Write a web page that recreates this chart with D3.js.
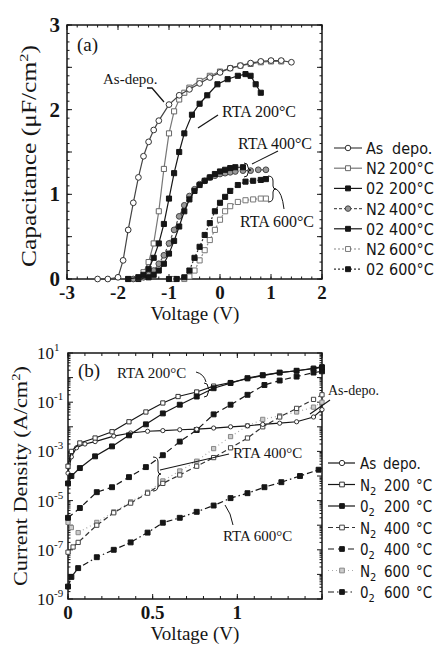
<!DOCTYPE html>
<html><head><meta charset="utf-8">
<script src="https://cdn.jsdelivr.net/npm/d3@7/dist/d3.min.js"></script>
<style>
body{margin:0;background:#fff}
svg{display:block}
text{font-family:"Liberation Serif","Times New Roman",serif;fill:#151515}
.leg text{font-family:"DejaVu Sans Condensed","DejaVu Sans",sans-serif;font-stretch:condensed}
</style>
</head><body><svg id="c" width="440" height="648"></svg>
<script>
// ---------- Panel (a): C-V ----------
const aAsDepoV = [-2.4,-2.2,-2.0,-1.9,-1.8,-1.7,-1.6,-1.5,-1.4,-1.3,-1.2,-1.0,-0.8,-0.6,-0.4,-0.2,0,0.2,0.4,0.6,0.8,1.0,1.2,1.4];
const aAsDepoC = [0,0,0.02,0.22,0.58,0.9,1.2,1.45,1.62,1.76,1.87,2.06,2.17,2.24,2.31,2.38,2.44,2.49,2.52,2.55,2.57,2.58,2.58,2.56];
const aN2200V = [-1.8,-1.6,-1.5,-1.4,-1.3,-1.2,-1.1,-1.0,-0.9,-0.8,-0.7,-0.6,-0.4,-0.2,0,0.2,0.4,0.6,0.8,1.0,1.2];
const aN2200C = [0,0.02,0.08,0.2,0.42,0.8,1.3,1.72,1.98,2.12,2.2,2.26,2.34,2.4,2.45,2.49,2.52,2.54,2.56,2.57,2.57];
const aO2200V = [-1.8,-1.6,-1.5,-1.4,-1.3,-1.2,-1.1,-1.0,-0.9,-0.8,-0.7,-0.55,-0.4,-0.25,-0.05,0.15,0.35,0.5,0.6,0.7,0.8];
const aO2200C = [0,0.02,0.05,0.12,0.25,0.42,0.65,0.95,1.25,1.5,1.72,1.94,2.07,2.17,2.3,2.36,2.4,2.42,2.4,2.3,2.2];
const aN2400V = [-1.7,-1.5,-1.4,-1.3,-1.2,-1.1,-1.0,-0.9,-0.8,-0.7,-0.6,-0.5,-0.4,-0.3,-0.2,-0.1,0,0.1,0.2,0.3,0.45,0.6,0.75,0.9];
const aN2400C = [0,0.02,0.05,0.1,0.18,0.28,0.42,0.58,0.74,0.87,0.98,1.06,1.12,1.16,1.2,1.22,1.24,1.25,1.26,1.27,1.28,1.28,1.29,1.29];
const aO2400V = [-1.6,-1.4,-1.3,-1.2,-1.1,-1.0,-0.9,-0.8,-0.7,-0.6,-0.5,-0.4,-0.3,-0.2,-0.1,0,0.1,0.2,0.3,0.45];
const aO2400C = [0,0.02,0.05,0.1,0.18,0.3,0.45,0.62,0.8,0.94,1.04,1.11,1.16,1.2,1.24,1.27,1.29,1.31,1.32,1.32];
const aN2600V = [-0.9,-0.7,-0.6,-0.5,-0.4,-0.3,-0.2,-0.1,0,0.1,0.2,0.35,0.5,0.65,0.8,0.9];
const aN2600C = [0,0,0.03,0.1,0.22,0.34,0.46,0.58,0.7,0.8,0.86,0.91,0.93,0.94,0.95,0.95];
const aO2600V = [-1.0,-0.85,-0.7,-0.6,-0.5,-0.4,-0.3,-0.2,-0.1,0,0.1,0.2,0.35,0.5,0.65,0.8,0.9];
const aO2600C = [0,0,0.02,0.1,0.25,0.38,0.52,0.66,0.8,0.9,0.97,1.04,1.11,1.15,1.16,1.17,1.18];
const aXTicks = [-3,-2,-1,0,1,2];
const aYTicks = [0,1,2,3];
const aLegendName = ["As","N2","02","N2","02","N2","02"];
const aLegendTemp = ["depo.","200°C","200°C","400°C","400°C","600°C","600°C"];

// ---------- Panel (b): J-V ----------
const bAsDepoV = [0,0.02,0.05,0.1,0.16,0.27,0.37,0.47,0.56,0.66,0.76,0.86,0.96,1.06,1.15,1.25,1.35,1.45,1.5];
const bAsDepoJ = [1.3e-4,6e-4,1.4e-3,2e-3,2.5e-3,4.2e-3,5.6e-3,6.6e-3,7e-3,7.6e-3,8e-3,8.9e-3,1e-2,1.1e-2,1.25e-2,1.4e-2,1.6e-2,2.5e-2,5e-2];
const bN2200V = [0,0.02,0.07,0.16,0.26,0.36,0.46,0.56,0.65,0.76,0.86,0.96,1.06,1.15,1.25,1.35,1.45,1.5];
const bN2200J = [2.5e-4,1e-3,2.2e-3,3.5e-3,6.3e-3,1.6e-2,4e-2,9.3e-2,0.17,0.26,0.45,0.63,0.9,1.2,1.6,1.9,2.4,2.8];
const bO2200V = [0,0.02,0.07,0.16,0.26,0.36,0.46,0.56,0.66,0.76,0.86,0.96,1.06,1.15,1.25,1.35,1.45,1.5];
const bO2200J = [5e-5,1e-4,2.1e-4,6.3e-4,1.6e-3,4.5e-3,1.26e-2,3.5e-2,7.9e-2,0.17,0.37,0.6,0.95,1.26,1.6,1.9,2.3,2.6];
const bN2400V = [0,0.03,0.06,0.17,0.27,0.37,0.47,0.56,0.66,0.76,0.86,0.96,1.06,1.15,1.25,1.35,1.45,1.5];
const bN2400J = [8e-8,1.3e-7,2e-7,1e-6,3.2e-6,7.9e-6,2e-5,5e-5,1.1e-4,2.5e-4,5.6e-4,1.4e-3,3.5e-3,1e-2,2.5e-2,5.6e-2,0.13,0.2];
const bO2400V = [0,0.07,0.17,0.26,0.36,0.46,0.56,0.66,0.76,0.86,0.96,1.06,1.16,1.25,1.35,1.45,1.5];
const bO2400J = [2e-6,5e-6,2.2e-5,3.5e-5,9e-5,2.3e-4,7e-4,2.5e-3,7.4e-3,3.2e-2,7.9e-2,0.2,0.5,0.76,1.1,1.6,1.8];
const bN2600V = [0,0.02,0.06,0.17,0.27,0.37,0.47,0.56,0.66,0.76,0.86,0.96,1.06,1.15,1.25,1.35,1.45,1.5];
const bN2600J = [1.3e-6,8e-7,5e-7,1.3e-6,3.5e-6,8.9e-6,2.2e-5,6.3e-5,1.6e-4,4e-4,1.3e-3,4e-3,1.1e-2,2e-2,2.8e-2,4e-2,6.3e-2,0.1];
const bO2600V = [0,0.02,0.06,0.17,0.27,0.37,0.47,0.56,0.66,0.76,0.86,0.96,1.06,1.16,1.26,1.37,1.48];
const bO2600J = [3.2e-9,7.9e-9,1.8e-8,5e-8,1e-7,2e-7,5e-7,1.26e-6,2e-6,3.5e-6,6.3e-6,1.26e-5,2e-5,3.5e-5,5.6e-5,1e-4,1.8e-4];
const bXTicks = [0,0.5,1,1.5];
const bXTickLabels = ["0","0.5","1",""];
const bYTicks = [1e1,1e-1,1e-3,1e-5,1e-7,1e-9];
const bYExp = ["1","-1","-3","-5","-7","-9"];
const bLegendName = ["As","N","0","N","0","N","0"];
const bLegendSub = ["","2","2","2","2","2","2"];
const bLegendNum = ["depo.","200","200","400","400","600","600"];
const bLegendUnit = ["","°C","°C","°C","°C","°C","°C"];

const svg = d3.select("#c");
const INK = "#161616";

const aStyles = [
  {sym:d3.symbolCircle, fill:"#fff", stroke:"#333", dash:null, line:"#444"},
  {sym:d3.symbolSquare, fill:"#fff", stroke:"#666", dash:null, line:"#777"},
  {sym:d3.symbolSquare, fill:INK, stroke:INK, dash:null, line:INK},
  {sym:d3.symbolCircle, fill:"#999", stroke:"#444", dash:"3,2", line:"#555"},
  {sym:d3.symbolSquare, fill:INK, stroke:INK, dash:null, line:INK},
  {sym:d3.symbolSquare, fill:"#fff", stroke:"#777", dash:"2,2", line:"#888"},
  {sym:d3.symbolSquare, fill:INK, stroke:INK, dash:"2,2", line:"#333"}
];
const bStyles = [
  {sym:d3.symbolCircle, fill:"#fff", stroke:"#333", dash:null, line:INK, size:14},
  {sym:d3.symbolSquare, fill:"#fff", stroke:"#333", dash:null, line:INK, size:18},
  {sym:d3.symbolSquare, fill:INK, stroke:INK, dash:null, line:INK, size:24},
  {sym:d3.symbolSquare, fill:"#fff", stroke:"#444", dash:"5,3", line:"#333", size:18},
  {sym:d3.symbolSquare, fill:INK, stroke:INK, dash:"6,4", line:INK, size:24},
  {sym:d3.symbolSquare, fill:"#ccc", stroke:"#888", dash:"1,3", line:"#aaa", size:18},
  {sym:d3.symbolSquare, fill:INK, stroke:INK, dash:"6,3,1.5,3", line:INK, size:24}
];

function frame(g, x, y) {
  const [x0,x1] = x.range(), [y0,y1] = y.range();
  g.append("rect").attr("x",x0).attr("y",y1).attr("width",x1-x0).attr("height",y0-y1)
    .attr("fill","none").attr("stroke",INK).attr("stroke-width",1.5);
}
function ticksX(g, x, y, vals, len) {
  const [y0,y1] = y.range();
  vals.forEach(v => {
    const px = x(v);
    g.append("line").attr("x1",px).attr("x2",px).attr("y1",y0).attr("y2",y0-len).attr("stroke",INK);
    g.append("line").attr("x1",px).attr("x2",px).attr("y1",y1).attr("y2",y1+len).attr("stroke",INK);
  });
}
function ticksY(g, x, y, vals, len) {
  const [x0,x1] = x.range();
  vals.forEach(v => {
    const py = y(v);
    g.append("line").attr("y1",py).attr("y2",py).attr("x1",x0).attr("x2",x0+len).attr("stroke",INK);
    g.append("line").attr("y1",py).attr("y2",py).attr("x1",x1).attr("x2",x1-len).attr("stroke",INK);
  });
}
function series(g, x, y, xs, ys, st, size) {
  const pts = xs.map((v,i)=>[x(v), y(ys[i])]);
  g.append("path").attr("d", d3.line()(pts)).attr("fill","none")
    .attr("stroke", st.line).attr("stroke-width",1.2).attr("stroke-dasharray", st.dash);
  const sym = d3.symbol().type(st.sym).size(st.size || size);
  g.selectAll(null).data(pts).join("path")
    .attr("transform", d=>`translate(${d[0]},${d[1]})`)
    .attr("d", sym).attr("fill", st.fill).attr("stroke", st.stroke).attr("stroke-width",1);
}

// ================= Panel (a) =================
const xa = d3.scaleLinear().domain([-3,2]).range([67,322]);
const ya = d3.scaleLinear().domain([0,3]).range([279,25]);
const ga = svg.append("g");
frame(ga, xa, ya);
ticksX(ga, xa, ya, d3.range(-3,2.001,0.2), 2.5);
ticksX(ga, xa, ya, aXTicks, 5);
ticksY(ga, xa, ya, d3.range(0,3.001,0.1), 2.5);
ticksY(ga, xa, ya, d3.range(0,3.001,0.5), 5);
aXTicks.forEach(v => ga.append("text").attr("x", xa(v)).attr("y", 299)
  .attr("text-anchor","middle").attr("font-size",19).attr("font-weight","bold")
  .text(v < 0 ? "-" + Math.abs(v) : v));
aYTicks.forEach(v => ga.append("text").attr("x", 60).attr("y", ya(v)+7)
  .attr("text-anchor","end").attr("font-size",21).attr("font-weight","bold").text(v));
ga.append("text").attr("x",195).attr("y",320).attr("text-anchor","middle").attr("font-size",19)
  .text("Voltage  (V)");
ga.append("text").attr("transform","translate(36,156) rotate(-90)").attr("text-anchor","middle")
  .attr("font-size",20).attr("textLength",222).attr("lengthAdjust","spacingAndGlyphs")
  .html('Capacitance  (μF/cm<tspan dy="-8" font-size="13">2</tspan><tspan dy="8">)</tspan>');

const aXs = [aAsDepoV,aN2200V,aO2200V,aN2400V,aO2400V,aN2600V,aO2600V];
const aYs = [aAsDepoC,aN2200C,aO2200C,aN2400C,aO2400C,aN2600C,aO2600C];
[5,6,3,4,1,2,0].forEach(i => series(ga, xa, ya, aXs[i], aYs[i], aStyles[i], 26));

// annotations (a)
ga.append("text").attr("x",77).attr("y",51).attr("font-size",19).text("(a)");
ga.append("text").attr("x",103).attr("y",84).attr("font-size",15).text("As-depo.");
ga.append("path").attr("d","M147,88 L152,88 L164,102").attr("fill","none").attr("stroke",INK).attr("stroke-width",1.3);
ga.append("text").attr("x",222).attr("y",117).attr("font-size",16).text("RTA 200°C");
ga.append("line").attr("x1",218).attr("y1",115).attr("x2",198).attr("y2",128).attr("stroke",INK).attr("stroke-width",1.3);
ga.append("text").attr("x",238).attr("y",149).attr("font-size",16).text("RTA 400°C");
ga.append("line").attr("x1",278).attr("y1",151).attr("x2",252).attr("y2",164).attr("stroke",INK).attr("stroke-width",1.1);
ga.append("path").attr("d","M244,163 q4,0 4,4 q0,3 3,3 q-3,0 -3,3 q0,4 -4,4").attr("fill","none").attr("stroke",INK);
ga.append("text").attr("x",240).attr("y",227).attr("font-size",16).text("RTA 600°C");
ga.append("path").attr("d","M268,176 q5,0 5,5 l0,5 q0,3 3,3 q-3,0 -3,3 l0,5 q0,5 -5,5").attr("fill","none").attr("stroke",INK);
ga.append("path").attr("d","M276,189 q6,3 8,20").attr("fill","none").attr("stroke",INK);

// legend (a)
const la = svg.append("g").attr("class","leg");
aLegendName.forEach((t,i) => {
  const y = 148 + i*20.2, st = aStyles[i];
  la.append("line").attr("x1",334).attr("x2",362).attr("y1",y).attr("y2",y)
    .attr("stroke",st.line).attr("stroke-width",1.2).attr("stroke-dasharray",st.dash);
  la.append("path").attr("transform",`translate(348,${y})`).attr("d",d3.symbol().type(st.sym).size(24)())
    .attr("fill",st.fill).attr("stroke",st.stroke);
  la.append("text").attr("x",366).attr("y",y+6).attr("font-size",16).text(t);
  la.append("text").attr("x",i ? 389 : 392).attr("y",y+6).attr("font-size",16).text(aLegendTemp[i]);
});

// ================= Panel (b) =================
const xb = d3.scaleLinear().domain([0,1.5]).range([68,322]);
const yb = d3.scaleLog().domain([1e-9,1e1]).range([599,353]);
const gb = svg.append("g");
frame(gb, xb, yb);
ticksX(gb, xb, yb, d3.range(0,1.5001,0.1), 3);
ticksX(gb, xb, yb, d3.range(0,1.5001,0.5), 5);
const minorY = [];
for (let e=-9; e<1; e++) for (let m=2; m<10; m++) minorY.push(m*Math.pow(10,e));
ticksY(gb, xb, yb, minorY, 2.5);
ticksY(gb, xb, yb, d3.range(-9,2).map(e=>Math.pow(10,e)), 5);
bXTicks.forEach((v,i) => gb.append("text").attr("x", xb(v)).attr("y", 619)
  .attr("text-anchor","middle").attr("font-size",19).attr("font-weight","bold").text(bXTickLabels[i]));
bYTicks.forEach((v,i) => gb.append("text").attr("x", 37).attr("y", yb(v)+6)
  .attr("font-size",17).html(`10<tspan dy="-8" font-size="11">${bYExp[i]}</tspan>`));
gb.append("text").attr("x",195).attr("y",640).attr("text-anchor","middle").attr("font-size",19)
  .text("Voltage  (V)");
gb.append("text").attr("transform","translate(27,476) rotate(-90)").attr("text-anchor","middle")
  .attr("font-size",18).attr("textLength",220).attr("lengthAdjust","spacingAndGlyphs")
  .html('Current Density  (A/cm<tspan dy="-7" font-size="12">2</tspan><tspan dy="7">)</tspan>');

const bXs = [bAsDepoV,bN2200V,bO2200V,bN2400V,bO2400V,bN2600V,bO2600V];
const bYs = [bAsDepoJ,bN2200J,bO2200J,bN2400J,bO2400J,bN2600J,bO2600J];
[5,6,3,4,0,1,2].forEach(i => series(gb, xb, yb, bXs[i], bYs[i], bStyles[i], 20));

// annotations (b)
gb.append("text").attr("x",78).attr("y",377).attr("font-size",19).text("(b)");
gb.append("text").attr("x",117).attr("y",378).attr("font-size",15).text("RTA 200°C");
gb.append("path").attr("d","M196,372 q8,2 10,10").attr("fill","none").attr("stroke",INK);
gb.append("path").attr("d","M204,383 q4,0 4,4 q0,3 3,3 q-3,0 -3,3 q0,4 -4,4").attr("fill","none").attr("stroke",INK);
gb.append("text").attr("x",328).attr("y",395).attr("font-size",14).text("As-depo.");
gb.append("line").attr("x1",330).attr("y1",400).attr("x2",310).attr("y2",414).attr("stroke",INK).attr("stroke-width",1.1);
gb.append("text").attr("x",233).attr("y",458).attr("font-size",15).text("RTA 400°C");
gb.append("line").attr("x1",160).attr("y1",470).attr("x2",229).attr("y2",454).attr("stroke",INK).attr("stroke-width",1.1);
gb.append("path").attr("d","M153,457 q5,0 5,5 l0,9 q0,3 3,3 q-3,0 -3,3 l0,9 q0,5 -5,5").attr("fill","none").attr("stroke",INK);
gb.append("text").attr("x",223).attr("y",541).attr("font-size",15).text("RTA 600°C");
gb.append("path").attr("d","M233,525 q-2,-12 -8,-20").attr("fill","none").attr("stroke",INK);

// legend (b)
const lb = svg.append("g").attr("class","leg");
bLegendName.forEach((t,i) => {
  const y = 463 + i*21.5, st = bStyles[i];
  lb.append("line").attr("x1",328).attr("x2",355).attr("y1",y).attr("y2",y)
    .attr("stroke",st.line).attr("stroke-width",1.2).attr("stroke-dasharray",st.dash);
  lb.append("path").attr("transform",`translate(342,${y})`).attr("d",d3.symbol().type(st.sym).size(22)())
    .attr("fill",st.fill).attr("stroke",st.stroke);
  const tx = lb.append("text").attr("x",360).attr("y",y+6).attr("font-size",15);
  tx.append("tspan").text(t);
  if (bLegendSub[i]) tx.append("tspan").attr("dy",4).attr("font-size",11).text(bLegendSub[i]);
  lb.append("text").attr("x", i ? 384 : 383).attr("y",y+6).attr("font-size",15).text(bLegendNum[i]);
  if (bLegendUnit[i]) lb.append("text").attr("x",416).attr("y",y+6).attr("font-size",15).text(bLegendUnit[i]);
});
</script>
</body></html>
